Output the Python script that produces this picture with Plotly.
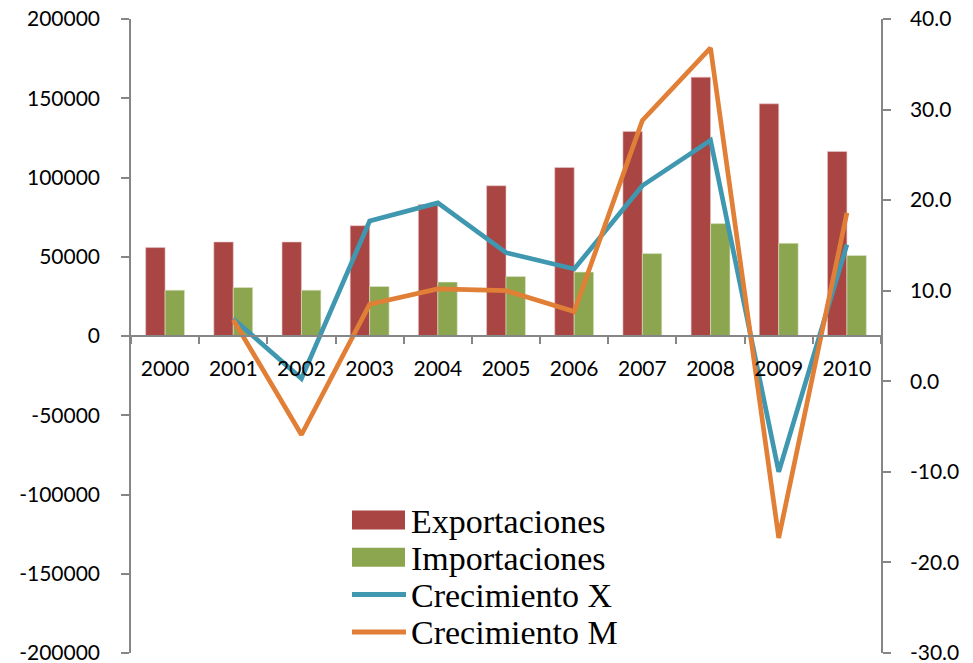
import plotly.graph_objects as go

years = ['2000', '2001', '2002', '2003', '2004', '2005', '2006', '2007', '2008', '2009', '2010']
exportaciones = [55800, 59300, 59300, 69600, 83000, 94800, 106300, 129100, 163300, 146500, 116400]
importaciones = [28900, 30600, 28900, 31200, 34000, 37500, 40300, 52000, 70900, 58500, 50800]
crecimiento_x = [None, 6.9, 0.3, 17.7, 19.7, 14.2, 12.4, 21.6, 26.6, -10.0, 15.1]
crecimiento_m = [None, 6.8, -5.9, 8.5, 10.2, 10.0, 7.7, 28.8, 36.8, -17.3, 18.6]

left_ticks = [-200000, -150000, -100000, -50000, 0, 50000, 100000, 150000, 200000]
right_ticks = [-30, -20, -10, 0, 10, 20, 30, 40]

COLOR_EXP = '#A94643'
COLOR_IMP = '#8CA64F'
COLOR_X = '#3F97B0'
COLOR_M = '#E07F35'
AXIS_GRAY = '#868686'
TICK_FONT = dict(family='Lato, Open Sans, sans-serif', size=21, color='black')

fig = go.Figure()
fig.add_trace(go.Bar(name='Exportaciones', x=years, y=exportaciones,
                     marker=dict(color=COLOR_EXP, line=dict(color='#E8C8C6', width=0.6))))
fig.add_trace(go.Bar(name='Importaciones', x=years, y=importaciones,
                     marker=dict(color=COLOR_IMP, line=dict(color='#DDE6CC', width=0.6))))
fig.add_trace(go.Scatter(name='Crecimiento X', x=years, y=crecimiento_x, yaxis='y2',
                         mode='lines', line=dict(color=COLOR_X, width=4.7)))
fig.add_trace(go.Scatter(name='Crecimiento M', x=years, y=crecimiento_m, yaxis='y2',
                         mode='lines', line=dict(color=COLOR_M, width=4.7)))

# leyenda dibujada a mano (muestras anchas como en Excel)
TOP, BOTTOM, LEFT, RIGHT = 19, 653, 131, 881  # área de trazado en px


def px(xp):
    return (xp - LEFT) / (RIGHT - LEFT)


def py(yp):
    return (BOTTOM - yp) / (BOTTOM - TOP)


legend_items = [
    ('Exportaciones', COLOR_EXP, 'bar'),
    ('Importaciones', COLOR_IMP, 'bar'),
    ('Crecimiento X', COLOR_X, 'line'),
    ('Crecimiento M', COLOR_M, 'line'),
]
shapes = []
annotations = []
row0, step = 520, 37.3
for i, (label, color, kind) in enumerate(legend_items):
    yc = row0 + i * step
    if kind == 'bar':
        shapes.append(dict(type='rect', xref='paper', yref='paper',
                           x0=px(352), x1=px(405), y0=py(yc - 9.5), y1=py(yc + 9.5),
                           fillcolor=color, line=dict(width=0)))
    else:
        shapes.append(dict(type='line', xref='paper', yref='paper',
                           x0=px(352), x1=px(406), y0=py(yc), y1=py(yc),
                           line=dict(color=color, width=5)))
    annotations.append(dict(text=label, xref='paper', yref='paper', x=px(409), y=py(yc + 1),
                            xanchor='left', yanchor='middle', showarrow=False,
                            font=dict(family='Liberation Serif, serif', size=34, color='black')))

axis_common = dict(
    showline=True,
    linecolor=AXIS_GRAY,
    linewidth=1.5,
    ticks='outside',
    tickwidth=1.5,
    tickcolor=AXIS_GRAY,
    showgrid=False,
    automargin=False,
    tickfont=TICK_FONT,
)

fig.update_layout(
    width=973,
    height=663,
    barmode='group',
    bargap=0.43,
    bargroupgap=0,
    plot_bgcolor='white',
    paper_bgcolor='white',
    showlegend=False,
    margin=dict(t=TOP, b=663 - BOTTOM, l=LEFT, r=973 - RIGHT),
    shapes=shapes,
    annotations=annotations,
    xaxis=dict(
        type='category',
        anchor='free',
        position=0.5,
        tickson='boundaries',
        ticklen=7,
        ticklabelstandoff=14,
        **axis_common,
    ),
    yaxis=dict(
        range=[-200000, 200000],
        tickvals=left_ticks,
        ticktext=[str(v) for v in left_ticks],
        ticklen=8,
        ticklabelstandoff=17,
        ticklabeloverflow='allow',
        zeroline=False,
        **axis_common,
    ),
    yaxis2=dict(
        range=[-30, 40],
        overlaying='y',
        side='right',
        tickvals=right_ticks,
        ticktext=[f'{v:.1f}' for v in right_ticks],
        ticklen=8,
        ticklabelstandoff=15,
        ticklabeloverflow='allow',
        zeroline=False,
        **axis_common,
    ),
)

# sin margen del <body> para que la figura ocupe toda la ventana
fig.write_html("out.html", config={'displayModeBar': False},
               post_script="document.body.style.margin='0';")
